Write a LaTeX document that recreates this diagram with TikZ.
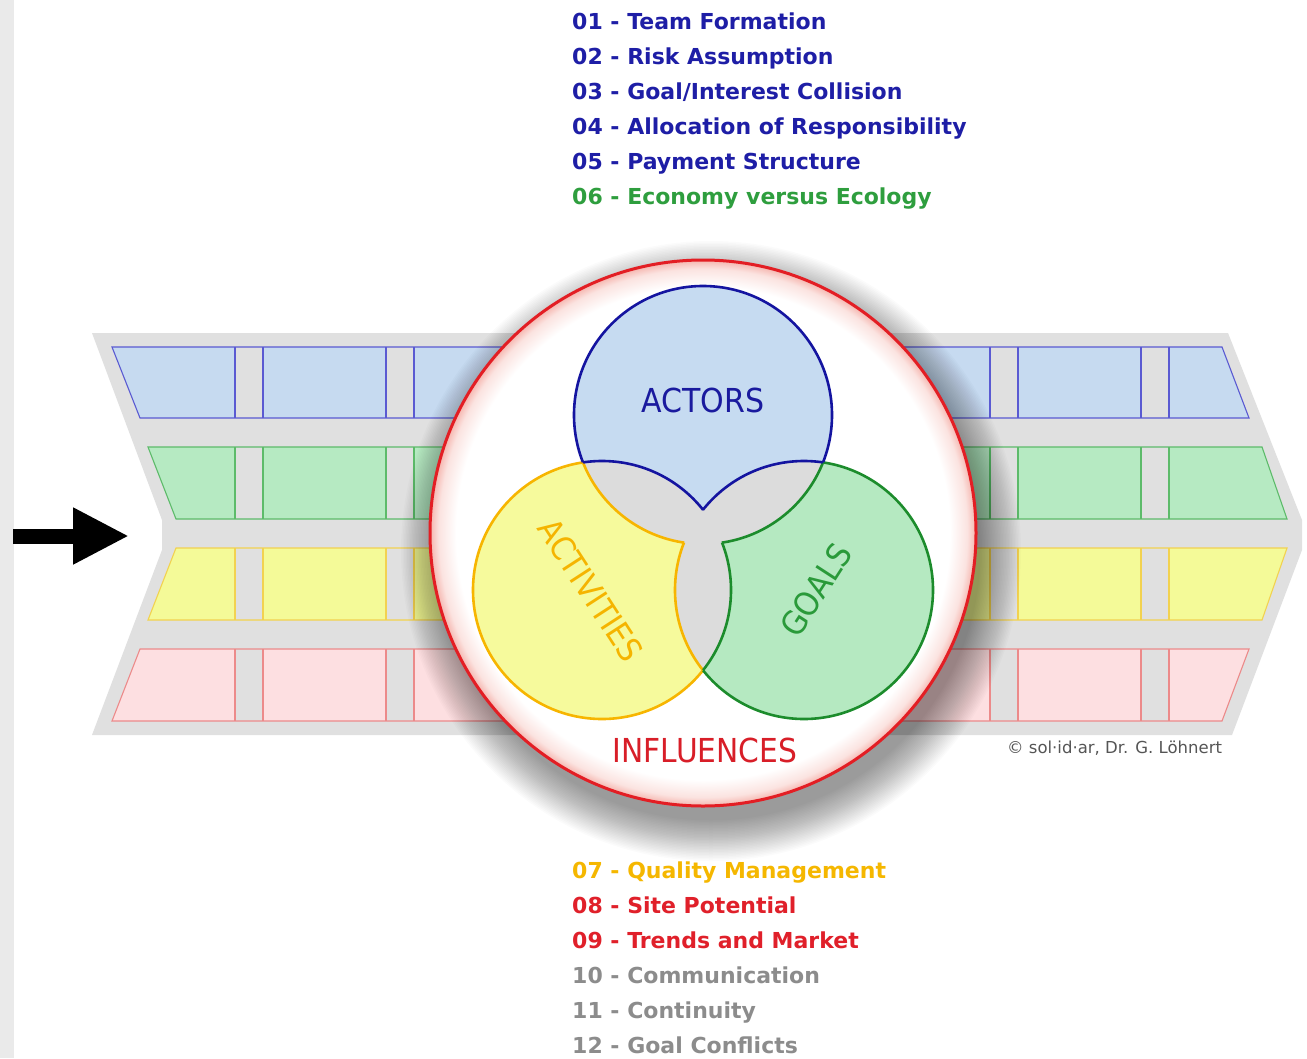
\documentclass[tikz,border=0pt]{standalone}
\usepackage{fontspec}
\setmainfont{DejaVu Sans}
\usetikzlibrary{arrows.meta}
\definecolor{leftgray}{HTML}{EAEAEA}
\definecolor{bandgray}{HTML}{E0E0E0}
\definecolor{cellblue}{HTML}{C6DAF0}
\definecolor{lineblue}{HTML}{5A5AD2}
\definecolor{cellgreen}{HTML}{B6EAC2}
\definecolor{linegreen}{HTML}{5DBB6A}
\definecolor{cellyellow}{HTML}{F4FA98}
\definecolor{lineyellow}{HTML}{F2D250}
\definecolor{cellred}{HTML}{FDDFE1}
\definecolor{linered}{HTML}{EC8A8A}
\definecolor{vbfill}{HTML}{C6DBF1}
\definecolor{vbline}{HTML}{1414A0}
\definecolor{vyfill}{HTML}{F6FA9C}
\definecolor{vyline}{HTML}{F7B500}
\definecolor{vgfill}{HTML}{B5E9C1}
\definecolor{vgline}{HTML}{1C8C2C}
\definecolor{venngray}{HTML}{DCDCDC}
\definecolor{circred}{HTML}{E31E24}
\definecolor{glowA}{HTML}{FBE3E0}
\definecolor{glowB}{HTML}{F5B5AE}
\definecolor{listblue}{HTML}{1E1EA6}
\definecolor{listgreen}{HTML}{2E9E3E}
\definecolor{listorange}{HTML}{F5B700}
\definecolor{listred}{HTML}{E0202A}
\definecolor{listgray}{HTML}{8C8C8C}
\definecolor{txtblue}{HTML}{1A1A9E}
\definecolor{txtyellow}{HTML}{F5B400}
\definecolor{txtgreen}{HTML}{2A9A3A}
\definecolor{txtred}{HTML}{D81E28}
\definecolor{copygray}{HTML}{555555}
\pgfdeclareradialshading{innerglow}{\pgfpointorigin}{color(0bp)=(white); color(22.6bp)=(white); color(24.2bp)=(glowA); color(25bp)=(glowB); color(50bp)=(glowB)}
\newcommand\venout[1]{\clip (-20,-20) rectangle (1330,1080) (#1) circle[radius=129pt];}
\tikzset{
  cellbox/.style={line width=1.1pt},
  vennline/.style={line width=2.6pt},
  biglabel/.style={inner sep=0pt, font=\fontsize{33}{36}\selectfont},
  listtxt/.style={anchor=base west, inner sep=0pt, font=\fontsize{22}{26}\selectfont\bfseries},
}
\begin{document}
\begin{tikzpicture}[x=1pt,y=-1pt]
\useasboundingbox (0,0) rectangle (1307,1058);
\fill[white] (0,0) rectangle (1307,1058);
\fill[leftgray] (0,0) rectangle (14,1058);
% band
\fill[bandgray] (92,333) -- (1228,333) -- (1302,520) -- (1302,550) -- (1232,735) -- (92,735) -- (162,550) -- (162,520) -- cycle;
% rows with dividers
\foreach \yt/\yb/\ltx/\lbx/\rtx/\rbx/\fc/\lc in {347/418/112/140/1222/1249/cellblue/lineblue, 447/519/148/176/1262/1287/cellgreen/linegreen, 548/620/176/148/1287/1262/cellyellow/lineyellow, 649/721/140/112/1249/1222/cellred/linered}{
  \fill[\fc] (\ltx,\yt) -- (\rtx,\yt) -- (\rbx,\yb) -- (\lbx,\yb) -- cycle;
  \foreach \k in {0,...,6}{
    \fill[bandgray] ({235+151*\k},\yt) rectangle ({263+151*\k},\yb);
    \draw[cellbox, \lc] ({235+151*\k},\yt) -- ({235+151*\k},\yb);
    \draw[cellbox, \lc] ({263+151*\k},\yt) -- ({263+151*\k},\yb);
  }
  \draw[cellbox, \lc] (\ltx,\yt) -- (\rtx,\yt) -- (\rbx,\yb) -- (\lbx,\yb) -- cycle;
}
% arrow
\coordinate (arrS) at (13,536);
\coordinate (arrE) at (129,536);
\draw[line width=15pt, -{Triangle[length=56pt,width=53pt]}] (arrS) -- (arrE);
% shadow
\coordinate (cM) at (703,533);
\coordinate (cSh) at (711,551);
\foreach \i in {0,...,27}{
  \fill[black, opacity=0.016] (cSh) circle[radius={310pt-1.5pt*\i}];
}
% main circle
\shade[shading=innerglow] (cM) circle[radius=273pt];
\draw[line width=3pt, circred] (cM) circle[radius=273pt];
% venn
\coordinate (cB) at (703,415);
\coordinate (cY) at (602,590);
\coordinate (cG) at (804,590);
\fill[vbfill] (cB) circle[radius=129pt];
\fill[vyfill] (cY) circle[radius=129pt];
\fill[vgfill] (cG) circle[radius=129pt];
\begin{scope}
  \clip (cB) circle[radius=129pt];
  \fill[venngray] (cY) circle[radius=129pt];
  \fill[venngray] (cG) circle[radius=129pt];
\end{scope}
\begin{scope}
  \clip (cY) circle[radius=129pt];
  \fill[venngray] (cG) circle[radius=129pt];
\end{scope}
% yellow region outline
\begin{scope}[even odd rule]\venout{cB}\venout{cG}\draw[vennline, vyline] (cY) circle[radius=129pt];\end{scope}
\begin{scope}[even odd rule]\clip (cY) circle[radius=129pt];\venout{cG}\draw[vennline, vyline] (cB) circle[radius=129pt];\end{scope}
\begin{scope}[even odd rule]\clip (cY) circle[radius=129pt];\venout{cB}\draw[vennline, vyline] (cG) circle[radius=129pt];\end{scope}
% green region outline
\begin{scope}[even odd rule]\venout{cB}\venout{cY}\draw[vennline, vgline] (cG) circle[radius=129pt];\end{scope}
\begin{scope}[even odd rule]\clip (cG) circle[radius=129pt];\venout{cY}\draw[vennline, vgline] (cB) circle[radius=129pt];\end{scope}
\begin{scope}[even odd rule]\clip (cG) circle[radius=129pt];\venout{cB}\draw[vennline, vgline] (cY) circle[radius=129pt];\end{scope}
% blue region outline
\begin{scope}[even odd rule]\venout{cY}\venout{cG}\draw[vennline, vbline] (cB) circle[radius=129pt];\end{scope}
\begin{scope}[even odd rule]\clip (cB) circle[radius=129pt];\venout{cG}\draw[vennline, vbline] (cY) circle[radius=129pt];\end{scope}
\begin{scope}[even odd rule]\clip (cB) circle[radius=129pt];\venout{cY}\draw[vennline, vbline] (cG) circle[radius=129pt];\end{scope}
% labels
\node[biglabel, text=txtblue] (actors) at (703,400) {\scalebox{0.91}[1]{ACTORS}};
\node[biglabel, text=txtyellow, rotate=-57] (activities) at (591,590) {\scalebox{0.91}[1]{ACTIVITIES}};
\node[biglabel, text=txtgreen, rotate=57] (goals) at (816,590) {\scalebox{0.91}[1]{GOALS}};
\node[biglabel, text=txtred] (influences) at (705,750) {\scalebox{0.9}[1]{INFLUENCES}};
\node[anchor=base west, inner sep=0pt, text=copygray, font=\fontsize{16.5}{18}\selectfont] (copy) at (1007,753) {© sol·id·ar, Dr. G. Löhnert};
% lists
\node[listtxt, text=listblue] (l01) at (572,29) {01 - Team Formation};
\node[listtxt, text=listblue] (l02) at (572,64) {02 - Risk Assumption};
\node[listtxt, text=listblue] (l03) at (572,99) {03 - Goal/Interest Collision};
\node[listtxt, text=listblue] (l04) at (572,134) {04 - Allocation of Responsibility};
\node[listtxt, text=listblue] (l05) at (572,169) {05 - Payment Structure};
\node[listtxt, text=listgreen] (l06) at (572,204) {06 - Economy versus Ecology};
\node[listtxt, text=listorange] (l07) at (572,878) {07 - Quality Management};
\node[listtxt, text=listred] (l08) at (572,913) {08 - Site Potential};
\node[listtxt, text=listred] (l09) at (572,948) {09 - Trends and Market};
\node[listtxt, text=listgray] (l10) at (572,983) {10 - Communication};
\node[listtxt, text=listgray] (l11) at (572,1018) {11 - Continuity};
\node[listtxt, text=listgray] (l12) at (572,1053) {12 - Goal Conflicts};
\end{tikzpicture}
\end{document}
